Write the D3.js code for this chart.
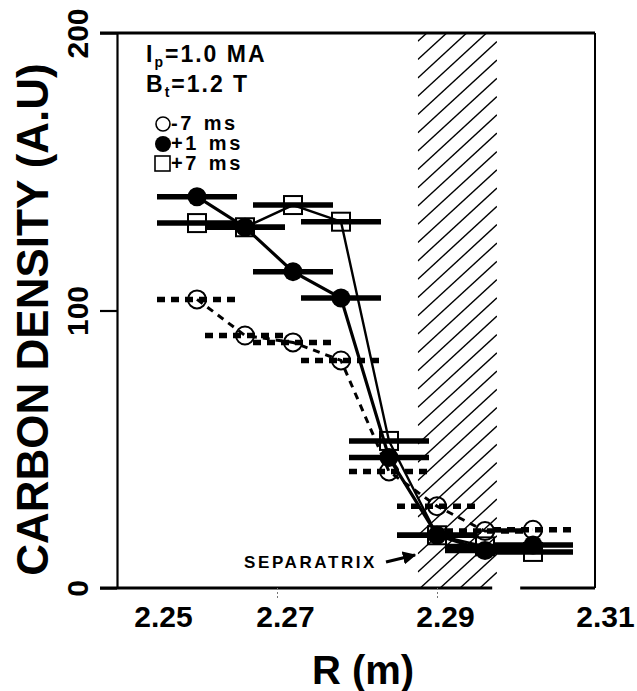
<!DOCTYPE html>
<html>
<head>
<meta charset="utf-8">
<script src="https://cdn.jsdelivr.net/npm/d3@7"></script>
<style>
  body { margin: 0; background: white; }
  text { font-family: "Liberation Sans", Arial, Helvetica, sans-serif; font-weight: bold; }
</style>
</head>
<body>
<div id="container"></div>
<script>
/* DATA */
const radius = [2.260, 2.266, 2.272, 2.278, 2.284, 2.290, 2.296, 2.302]
const densMinus7 = [104, 91, 88.5, 82, 42, 29.5, 20.5, 21]
const densPlus1 = [141, 130, 114, 104.5, 47, 19, 13.5, 15.5]
const densPlus7 = [131.5, 130, 138, 132, 53, 19, 15, 13]
const errHalf = 0.005
const xTicks = [2.25, 2.27, 2.29, 2.31]
const yTicks = [0, 100, 200]
const separatrixBand = [2.2876, 2.2975]
const axisGap = [2.2969, 2.3004]

/* CONSTANTS */
const width = 637
const height = 691
const margin = {top: 33, right: 40, bottom: 103, left: 117}

const svg = d3.select("#container")
  .append("svg")
  .attr("width", width)
  .attr("height", height)
  .style("background-color", "white")

const xScale = d3.scaleLinear()
  .domain([2.25, 2.31])
  .range([margin.left, width - margin.right])

const yScale = d3.scaleLinear()
  .domain([0, 200])
  .range([height - margin.bottom, margin.top])

const x0 = xScale(2.25), x1 = xScale(2.31)
const yTop = yScale(200), yBot = yScale(0)

/* separatrix hatch */
svg.append("clipPath").attr("id", "hatchclip")
  .append("rect")
  .attr("x", xScale(separatrixBand[0]))
  .attr("y", yTop)
  .attr("width", xScale(separatrixBand[1]) - xScale(separatrixBand[0]))
  .attr("height", yBot - yTop)

const hx0 = xScale(separatrixBand[0]), hx1 = xScale(separatrixBand[1])
const slope = 0.92
svg.append("g")
  .attr("clip-path", "url(#hatchclip)")
  .selectAll("line")
  .data(d3.range(yTop - 10, yBot + 100, 18.3))
  .join("line")
  .attr("x1", hx0).attr("y1", d => d)
  .attr("x2", hx1).attr("y2", d => d - (hx1 - hx0) * slope)
  .attr("stroke", "black")
  .attr("stroke-width", 1.4)

/* frame */
svg.append("line").attr("x1", 100).attr("x2", x1 - 2).attr("y1", yTop).attr("y2", yTop)
  .attr("stroke", "black").attr("stroke-width", 3)
svg.append("line").attr("x1", x1 - 2).attr("x2", x1 - 2).attr("y1", yTop).attr("y2", yBot)
  .attr("stroke", "black").attr("stroke-width", 2)
svg.append("line").attr("x1", 100).attr("x2", xScale(axisGap[0])).attr("y1", yBot).attr("y2", yBot)
  .attr("stroke", "black").attr("stroke-width", 3)
svg.append("line").attr("x1", xScale(axisGap[1])).attr("x2", x1 - 2).attr("y1", yBot).attr("y2", yBot)
  .attr("stroke", "black").attr("stroke-width", 3)

/* y axis */
const yAxis = svg.append("g")
  .attr("transform", `translate(${x0}, 0)`)
  .call(d3.axisLeft(yScale).tickValues(yTicks).tickSizeInner(17).tickSizeOuter(0))
yAxis.select(".domain").attr("stroke-width", 2.2)
yAxis.selectAll(".tick line").attr("stroke-width", 2.2)
yAxis.selectAll(".tick text")
  .attr("x", null).attr("dy", null)
  .attr("text-anchor", "middle")
  .attr("transform", "translate(-29,0) rotate(-90)")
  .style("font-size", "30px")
  .style("font-family", "'Liberation Sans', Arial, sans-serif")
  .style("font-weight", "bold")
  .attr("fill", "black")

/* x axis */
const xAxis = svg.append("g")
  .attr("transform", `translate(0, ${yBot})`)
  .call(d3.axisBottom(xScale).tickValues(xTicks).tickSizeInner(12).tickSizeOuter(0)
    .tickPadding(6).tickFormat(d3.format(".2f")))
xAxis.select(".domain").remove()
xAxis.selectAll(".tick line")
  .attr("stroke", "#777").attr("stroke-width", 1).attr("stroke-dasharray", "2,2")
  .attr("opacity", d => (d === 2.27 || d === 2.29) ? 1 : 0)
xAxis.selectAll(".tick text")
  .attr("dx", d => d === 2.25 ? 46 : 8)
  .style("font-size", "30px")
  .style("font-family", "'Liberation Sans', Arial, sans-serif")
  .style("font-weight", "bold")
  .attr("fill", "black")

/* axis titles */
svg.append("text")
  .attr("transform", `translate(48, ${(yTop + yBot) / 2 + 9}) rotate(-90)`)
  .attr("text-anchor", "middle")
  .style("font-size", "44px")
  .text("CARBON DENSITY (A.U)")

svg.append("text")
  .attr("x", 363).attr("y", 684)
  .attr("text-anchor", "middle")
  .style("font-size", "40px")
  .text("R (m)")

/* series */
const series = [
  {key: "m7", vals: densMinus7, dash: "7,6", lw: 3},
  {key: "p1", vals: densPlus1, dash: null, lw: 3.2},
  {key: "p7", vals: densPlus7, dash: null, lw: 2.4}
]

series.forEach(s => {
  const pts = radius.map((r, i) => ({r: r, v: s.vals[i]}))
  const g = svg.append("g").attr("class", s.key)

  // error bars
  g.selectAll(".err")
    .data(pts)
    .join("line")
    .attr("x1", d => xScale(d.r - errHalf))
    .attr("x2", d => xScale(d.r + errHalf))
    .attr("y1", d => yScale(d.v))
    .attr("y2", d => yScale(d.v))
    .attr("stroke", "black")
    .attr("stroke-width", 5.5)
    .attr("stroke-dasharray", s.dash ? "8,6" : null)

  // connecting line
  g.append("path")
    .datum(pts)
    .attr("fill", "none")
    .attr("stroke", "black")
    .attr("stroke-width", s.lw)
    .attr("stroke-dasharray", s.dash)
    .attr("d", d3.line().x(d => xScale(d.r)).y(d => yScale(d.v)))

  // markers
  if (s.key === "m7") {
    g.selectAll("circle").data(pts).join("circle")
      .attr("cx", d => xScale(d.r)).attr("cy", d => yScale(d.v)).attr("r", 9)
      .attr("fill", "none").attr("stroke", "black").attr("stroke-width", 2)
  } else if (s.key === "p1") {
    g.selectAll("circle").data(pts).join("circle")
      .attr("cx", d => xScale(d.r)).attr("cy", d => yScale(d.v)).attr("r", 9.5)
      .attr("fill", "black")
  } else {
    g.selectAll("rect").data(pts).join("rect")
      .attr("x", d => xScale(d.r) - 9).attr("y", d => yScale(d.v) - 9)
      .attr("width", 18).attr("height", 18)
      .attr("fill", "none").attr("stroke", "black").attr("stroke-width", 2)
  }
})

/* annotations / legend */
const ip = svg.append("text").attr("x", 146).attr("y", 62)
  .style("font-size", "23px").style("letter-spacing", "2px")
ip.append("tspan").text("I")
ip.append("tspan").attr("dy", 5).style("font-size", "14px").text("p")
ip.append("tspan").attr("dy", -5).text("=1.0 MA")

const bt = svg.append("text").attr("x", 146).attr("y", 92)
  .style("font-size", "23px").style("letter-spacing", "2px")
bt.append("tspan").text("B")
bt.append("tspan").attr("dy", 5).style("font-size", "14px").text("t")
bt.append("tspan").attr("dy", -5).text("=1.2 T")

const legendLabels = ["-7 ms", "+1 ms", "+7 ms"]
const legendY = [124, 144, 164]
svg.append("circle").attr("cx", 163).attr("cy", legendY[0]).attr("r", 7)
  .attr("fill", "none").attr("stroke", "black").attr("stroke-width", 1.6)
svg.append("circle").attr("cx", 163).attr("cy", legendY[1]).attr("r", 8).attr("fill", "black")
svg.append("rect").attr("x", 155).attr("y", legendY[2] - 8).attr("width", 15).attr("height", 15)
  .attr("fill", "none").attr("stroke", "black").attr("stroke-width", 1.6)
svg.selectAll(".leg").data(legendLabels).join("text")
  .attr("class", "leg")
  .attr("x", 171).attr("y", (d, i) => legendY[i] + 6)
  .style("font-size", "20px").style("letter-spacing", "2.5px").style("word-spacing", "2px")
  .text(d => d)

/* separatrix label */
svg.append("defs").append("marker")
  .attr("id", "arrow").attr("viewBox", "0 0 10 10").attr("refX", 9).attr("refY", 5)
  .attr("markerWidth", 4.5).attr("markerHeight", 4.5).attr("orient", "auto")
  .append("path").attr("d", "M0,0L10,5L0,10Z").attr("fill", "black")
svg.append("text").attr("x", 244).attr("y", 568)
  .style("font-size", "17px").style("letter-spacing", "2.6px")
  .text("SEPARATRIX")
svg.append("line").attr("x1", 386).attr("y1", 562).attr("x2", 415).attr("y2", 555)
  .attr("stroke", "black").attr("stroke-width", 3).attr("marker-end", "url(#arrow)")
</script>
</body>
</html>
